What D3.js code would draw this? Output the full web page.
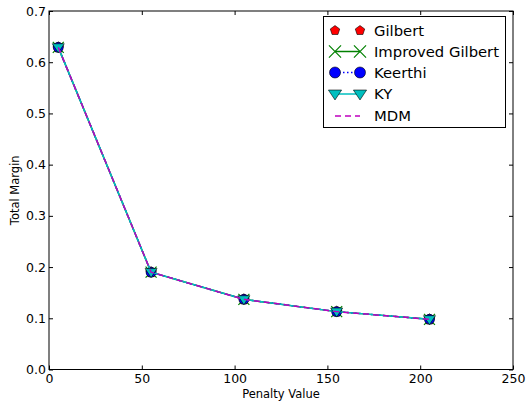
<!DOCTYPE html>
<html>
<head>
<meta charset="utf-8">
<script src="https://cdn.jsdelivr.net/npm/d3@7"></script>
<style>
  html, body { margin: 0; padding: 0; background: #fff; }
  svg { display: block; font-family: "DejaVu Sans", sans-serif; }
</style>
</head>
<body>
<svg id="chart" width="528" height="406"></svg>
<script>
// Penalty values on the x axis
const penalties = [5, 55, 105, 155, 205];

// Total margin per solver (all solvers converge to the same margin)
const gilbert         = [0.629, 0.190, 0.137, 0.113, 0.098];
const improvedGilbert = [0.629, 0.190, 0.137, 0.113, 0.098];
const keerthi         = [0.629, 0.190, 0.137, 0.113, 0.098];
const ky              = [0.629, 0.190, 0.137, 0.113, 0.098];
const mdm             = [0.629, 0.190, 0.137, 0.113, 0.098];

const seriesNames = ["Gilbert", "Improved Gilbert", "Keerthi", "KY", "MDM"];

const xTicks = [0, 50, 100, 150, 200, 250];
const yTicks = [0.0, 0.1, 0.2, 0.3, 0.4, 0.5, 0.6, 0.7];

const svg = d3.select("#chart");
const pLeft = 49, pRight = 513, pTop = 11, pBottom = 369.5;

const x = d3.scaleLinear().domain([0, 250]).range([pLeft, pRight]);
const y = d3.scaleLinear().domain([0, 0.7]).range([pBottom, pTop]);

const styles = [
  { values: gilbert,         color: "#ff0000", line: null,  dash: null,  marker: "pentagon" },
  { values: improvedGilbert, color: "#008000", line: 1.5,   dash: null,  marker: "x" },
  { values: keerthi,         color: "#0000ff", line: 1.5,   dash: "1.5,2.5", marker: "circle" },
  { values: ky,              color: "#00bfbf", line: 1.5,   dash: null,  marker: "tri" },
  { values: mdm,             color: "#bf00bf", line: 1.5,   dash: "6,4", marker: null }
];

// Axes frame with inward ticks on all four sides
const axisColor = "#000";
const gx = svg.append("g").attr("transform", `translate(0,${pBottom})`)
  .call(d3.axisBottom(x).tickValues(xTicks).tickSizeInner(-4).tickSizeOuter(0).tickPadding(3).tickFormat(d3.format("d")));
const gxt = svg.append("g").attr("transform", `translate(0,${pTop})`)
  .call(d3.axisTop(x).tickValues(xTicks).tickSizeInner(-4).tickSizeOuter(0).tickFormat(""));
const gy = svg.append("g").attr("transform", `translate(${pLeft},0)`)
  .call(d3.axisLeft(y).tickValues(yTicks).tickSizeInner(-4).tickSizeOuter(0).tickPadding(3).tickFormat(d3.format(".1f")));
const gyr = svg.append("g").attr("transform", `translate(${pRight},0)`)
  .call(d3.axisRight(y).tickValues(yTicks).tickSizeInner(-4).tickSizeOuter(0).tickFormat(""));

[gx, gxt, gy, gyr].forEach(g => {
  g.select(".domain").remove();
  g.selectAll(".tick line").attr("stroke", axisColor).attr("stroke-width", 1);
  g.selectAll(".tick text").attr("fill", "#000").attr("font-size", 12.5)
    .attr("font-family", "DejaVu Sans, sans-serif");
});
gx.selectAll(".tick text").attr("dy", "0.85em");

svg.append("rect")
  .attr("x", pLeft).attr("y", pTop)
  .attr("width", pRight - pLeft).attr("height", pBottom - pTop)
  .attr("fill", "none").attr("stroke", "#000").attr("stroke-width", 1);

// Axis labels
svg.append("text").attr("x", (pLeft + pRight) / 2).attr("y", 398)
  .attr("text-anchor", "middle").attr("font-size", 11.5).text("Penalty Value");
svg.append("text").attr("transform", `translate(19,${(pTop + pBottom) / 2}) rotate(-90)`)
  .attr("text-anchor", "middle").attr("font-size", 11.5).text("Total Margin");

// Marker shapes
function marker(g, kind, color, cx, cy, s) {
  if (kind === "pentagon") {
    const r = s * 0.55;
    const pts = d3.range(5).map(i => {
      const a = -Math.PI / 2 + i * 2 * Math.PI / 5;
      return [cx + r * Math.cos(a), cy + r * Math.sin(a)];
    });
    g.append("polygon").attr("points", pts.map(p => p.join(",")).join(" "))
      .attr("fill", color).attr("stroke", "#000").attr("stroke-width", 0.6);
  } else if (kind === "x") {
    const r = s * 0.55;
    g.append("path").attr("d", `M${cx - r},${cy - r}L${cx + r},${cy + r}M${cx - r},${cy + r}L${cx + r},${cy - r}`)
      .attr("stroke", color).attr("stroke-width", 1.2).attr("fill", "none");
  } else if (kind === "circle") {
    g.append("circle").attr("cx", cx).attr("cy", cy).attr("r", s * 0.5)
      .attr("fill", color).attr("stroke", "#000").attr("stroke-width", 0.6);
  } else if (kind === "tri") {
    const r = s * 0.6;
    g.append("polygon")
      .attr("points", `${cx - r},${cy - r * 0.6} ${cx + r},${cy - r * 0.6} ${cx},${cy + r * 0.9}`)
      .attr("fill", color).attr("stroke", "#000").attr("stroke-width", 0.6);
  }
}

const plot = svg.append("g");
const lineGen = d3.line().x((d, i) => x(penalties[i])).y(d => y(d));
const markerSize = 10;

styles.forEach(s => {
  const g = plot.append("g");
  if (s.line) {
    g.append("path").datum(s.values).attr("d", lineGen)
      .attr("fill", "none").attr("stroke", s.color).attr("stroke-width", s.line)
      .attr("stroke-dasharray", s.dash);
  }
  if (s.marker) {
    s.values.forEach((v, i) => marker(g, s.marker, s.color, x(penalties[i]), y(v), markerSize));
  }
});

// Legend
const lg = svg.append("g");
lg.append("rect").attr("x", 323.5).attr("y", 16.5).attr("width", 182).attr("height", 111)
  .attr("fill", "#fff").attr("stroke", "#000").attr("stroke-width", 1);
const rowY = [30.5, 51.5, 72.5, 94, 116];
const hx0 = 335, hx1 = 360;
styles.forEach((s, i) => {
  const yy = rowY[i];
  const g = lg.append("g");
  if (s.line) {
    g.append("line").attr("x1", hx0).attr("x2", hx1).attr("y1", yy).attr("y2", yy)
      .attr("stroke", s.color).attr("stroke-width", s.line).attr("stroke-dasharray", s.dash);
  }
  if (s.marker) {
    const ms = s.marker === "pentagon" ? 9 : 11;
    marker(g, s.marker, s.color, hx0, yy, ms);
    marker(g, s.marker, s.color, hx1, yy, ms);
  }
  g.append("text").attr("x", 374).attr("y", yy).attr("dy", "0.36em")
    .attr("font-size", 14.8).text(seriesNames[i]);
});
</script>
</body>
</html>
